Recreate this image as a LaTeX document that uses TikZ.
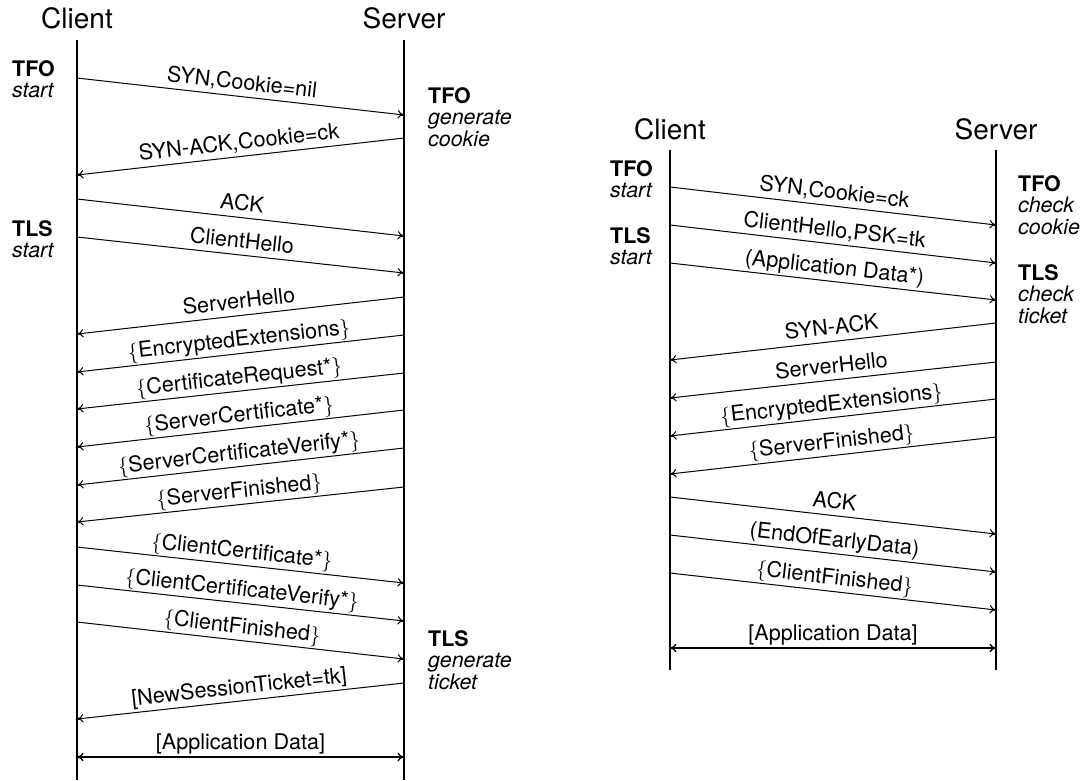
\documentclass[tikz,border=0pt]{standalone}
\usepackage{fontspec}
\setmainfont{TeX Gyre Heros}
\usetikzlibrary{arrows.meta}
\begin{document}
\begin{tikzpicture}[x=1pt,y=-1pt,
  life/.style={line width=2pt},
  msg/.style={line width=1pt,-{To[length=6.5pt,width=8.5pt]}},
  both/.style={line width=1.3pt,{To[length=6.5pt,width=8.5pt]}-{To[length=6.5pt,width=8.5pt]}},
  lbl/.style={sloped,above,font=\fontsize{21.6}{22}\selectfont,inner sep=2pt,text height=15pt,text depth=4.5pt},
  ttl/.style={font=\fontsize{28}{30}\selectfont,anchor=base,inner sep=0pt},
  ann/.style={font=\fontsize{21.4}{21.5}\selectfont,align=left,anchor=north west,inner sep=0pt}]
\useasboundingbox (0,0) rectangle (1084,780);
\newcommand{\lb}{$\{$}
\newcommand{\rb}{$\}$}
% ===== left diagram =====
\node[ttl] (LCtitle) at (77,28) {Client};
\node[ttl] (LStitle) at (404,28) {Server};
\coordinate (LCt) at (77,40); \coordinate (LCb) at (77,780);
\coordinate (LSt) at (404,40); \coordinate (LSb) at (404,780);
\draw[life] (LCt) -- (LCb);
\draw[life] (LSt) -- (LSb);
\node[ann] (LA1) at (12,60) {\textbf{TFO}\\\textit{start}};
\node[ann] (LA2) at (12,220) {\textbf{TLS}\\\textit{start}};
\node[ann] (LA3) at (428,87) {\textbf{TFO}\\\textit{generate}\\\textit{cookie}};
\node[ann] (LA4) at (428,630) {\textbf{TLS}\\\textit{generate}\\\textit{ticket}};
% messages
\coordinate (lc1) at (77,78);  \coordinate (ls1) at (404,115);
\coordinate (ls2) at (404,138); \coordinate (lc2) at (77,175);
\coordinate (lc3) at (77,199); \coordinate (ls3) at (404,236);
\coordinate (lc4) at (77,237); \coordinate (ls4) at (404,273);
\coordinate (ls5) at (404,297); \coordinate (lc5) at (77,334);
\coordinate (ls6) at (404,335); \coordinate (lc6) at (77,372);
\coordinate (ls7) at (404,373); \coordinate (lc7) at (77,409);
\coordinate (ls8) at (404,410); \coordinate (lc8) at (77,447);
\coordinate (ls9) at (404,448); \coordinate (lc9) at (77,485);
\coordinate (ls10) at (404,487); \coordinate (lc10) at (77,522);
\coordinate (lc11) at (77,547); \coordinate (ls11) at (404,583);
\coordinate (lc12) at (77,585); \coordinate (ls12) at (404,621);
\coordinate (lc13) at (77,622); \coordinate (ls13) at (404,659);
\coordinate (ls14) at (404,683); \coordinate (lc14) at (77,719);
\coordinate (lc15) at (77,757); \coordinate (ls15) at (404,757);
\draw[msg] (lc1) -- node[lbl] (lm1) {SYN,Cookie=nil} (ls1);
\draw[msg] (ls2) -- node[lbl] (lm2) {SYN-ACK,Cookie=ck} (lc2);
\draw[msg] (lc3) -- node[lbl] (lm3) {ACK} (ls3);
\draw[msg] (lc4) -- node[lbl] (lm4) {ClientHello} (ls4);
\draw[msg] (ls5) -- node[lbl] (lm5) {ServerHello} (lc5);
\draw[msg] (ls6) -- node[lbl] (lm6) {\lb EncryptedExtensions\rb} (lc6);
\draw[msg] (ls7) -- node[lbl] (lm7) {\lb CertificateRequest*\rb} (lc7);
\draw[msg] (ls8) -- node[lbl] (lm8) {\lb ServerCertificate*\rb} (lc8);
\draw[msg] (ls9) -- node[lbl] (lm9) {\lb ServerCertificateVerify*\rb} (lc9);
\draw[msg] (ls10) -- node[lbl] (lm10) {\lb ServerFinished\rb} (lc10);
\draw[msg] (lc11) -- node[lbl] (lm11) {\lb ClientCertificate*\rb} (ls11);
\draw[msg] (lc12) -- node[lbl] (lm12) {\lb ClientCertificateVerify*\rb} (ls12);
\draw[msg] (lc13) -- node[lbl] (lm13) {\lb ClientFinished\rb} (ls13);
\draw[msg] (ls14) -- node[lbl] (lm14) {[NewSessionTicket=tk]} (lc14);
\draw[both] (lc15) -- node[lbl] (lm15) {[Application Data]} (ls15);
% ===== right diagram =====
\node[ttl] (RCtitle) at (670,139) {Client};
\node[ttl] (RStitle) at (996,139) {Server};
\coordinate (RCt) at (670,150); \coordinate (RCb) at (670,670);
\coordinate (RSt) at (996,150); \coordinate (RSb) at (996,670);
\draw[life] (RCt) -- (RCb);
\draw[life] (RSt) -- (RSb);
\node[ann] (RA1) at (610,160) {\textbf{TFO}\\\textit{start}};
\node[ann] (RA2) at (610,227) {\textbf{TLS}\\\textit{start}};
\node[ann] (RA3) at (1018,175) {\textbf{TFO}\\\textit{check}\\\textit{cookie}};
\node[ann] (RA4) at (1018,264) {\textbf{TLS}\\\textit{check}\\\textit{ticket}};
\coordinate (rc1) at (670,187); \coordinate (rs1) at (996,225);
\coordinate (rc2) at (670,225); \coordinate (rs2) at (996,263);
\coordinate (rc3) at (670,263); \coordinate (rs3) at (996,300);
\coordinate (rs4) at (996,323); \coordinate (rc4) at (670,360);
\coordinate (rs5) at (996,362); \coordinate (rc5) at (670,398);
\coordinate (rs6) at (996,399); \coordinate (rc6) at (670,436);
\coordinate (rs7) at (996,437); \coordinate (rc7) at (670,474);
\coordinate (rc8) at (670,497); \coordinate (rs8) at (996,534);
\coordinate (rc9) at (670,535); \coordinate (rs9) at (996,572);
\coordinate (rc10) at (670,573); \coordinate (rs10) at (996,610);
\coordinate (rc11) at (670,648); \coordinate (rs11) at (996,648);
\draw[msg] (rc1) -- node[lbl] (rm1) {SYN,Cookie=ck} (rs1);
\draw[msg] (rc2) -- node[lbl] (rm2) {ClientHello,PSK=tk} (rs2);
\draw[msg] (rc3) -- node[lbl] (rm3) {(Application Data*)} (rs3);
\draw[msg] (rs4) -- node[lbl] (rm4) {SYN-ACK} (rc4);
\draw[msg] (rs5) -- node[lbl] (rm5) {ServerHello} (rc5);
\draw[msg] (rs6) -- node[lbl] (rm6) {\lb EncryptedExtensions\rb} (rc6);
\draw[msg] (rs7) -- node[lbl] (rm7) {\lb ServerFinished\rb} (rc7);
\draw[msg] (rc8) -- node[lbl] (rm8) {ACK} (rs8);
\draw[msg] (rc9) -- node[lbl] (rm9) {(EndOfEarlyData)} (rs9);
\draw[msg] (rc10) -- node[lbl] (rm10) {\lb ClientFinished\rb} (rs10);
\draw[both] (rc11) -- node[lbl] (rm11) {[Application Data]} (rs11);
\end{tikzpicture}
\end{document}
